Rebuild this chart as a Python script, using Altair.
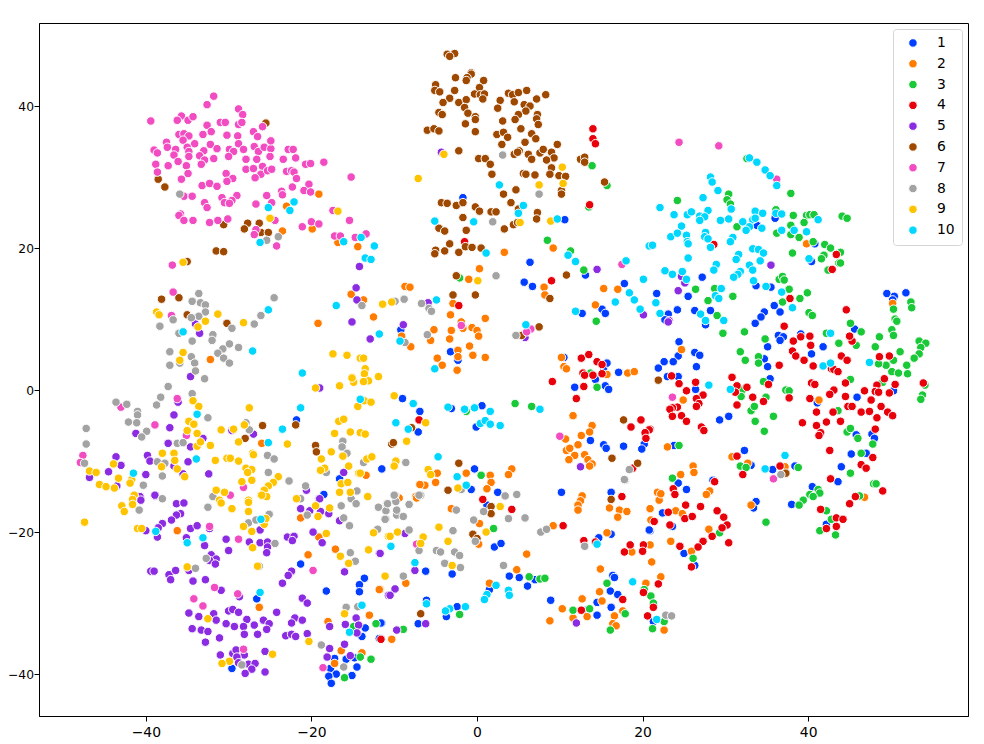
import altair as alt
import pandas as pd

c1 = [(-1.7,27.1),(10.6,24.0),(6.4,18.0),(36.0,24.2),(33.8,23.2),(40.8,20.6),(40.4,18.1),(27.2,15.9),(33.7,14.7),(35.5,14.5),(25.5,13.2),(49.5,13.6),(50.4,13.2),(51.8,13.7),(50.2,12.7),(35.9,11.9),(36.6,11.0),(34.7,11.0),(34.3,10.3),(33.6,9.4),(28.2,11.2),(26.3,11.2),(24.2,11.3),(23.1,10.7),(22.7,9.9),(27.6,9.2),(45.6,8.6),(36.4,7.7),(37.0,7.5),(36.6,7.0),(39.1,7.9),(35.1,6.1),(41.8,6.1),(40.4,5.1),(24.4,6.8),(26.3,5.3),(26.9,4.9),(24.3,4.8),(23.7,4.0),(22.6,4.0),(21.9,3.1),(26.5,3.3),(23.0,1.9),(24.3,1.9),(26.4,0.1),(34.7,4.4),(35.1,3.3),(35.4,1.6),(45.9,-1.0),(41.1,-1.8),(29.3,-4.2),(30.4,-3.7),(50.3,-0.1),(45.8,-6.3),(47.7,-6.2),(48.0,-6.8),(32.3,-8.5),(33.1,-10.6),(35.7,-11.2),(38.4,-10.7),(45.2,-9.0),(47.0,-8.9),(44.0,-10.8),(43.6,-12.9),(40.5,-13.6),(23.8,-7.8),(24.3,-13.1),(28.5,-12.7),(25.3,-14.0),(33.7,-15.7),(33.4,-16.6),(38.0,-16.1),(22.4,-17.3),(23.6,-19.2),(42.2,-18.9),(20.9,-19.8),(25.0,-23.0),(5.7,15.2),(6.7,14.6),(13.1,16.2),(17.8,15.0),(21.7,13.6),(15.1,11.4),(15.5,10.8),(12.7,10.8),(-9.2,8.5),(-3.2,5.4),(-2.3,4.2),(10.5,4.6),(15.7,3.8),(15.3,2.8),(17.1,2.5),(14.3,1.5),(11.8,0.4),(15.5,0.6),(15.9,0.1),(-9.0,-1.2),(-6.9,-3.0),(-7.1,-5.9),(0.6,-2.2),(-3.1,-2.6),(-0.1,-5.2),(13.7,-7.1),(15.3,-7.7),(15.6,-8.2),(17.7,-7.9),(20.2,-7.6),(19.9,-8.3),(-11.5,-11.1),(-0.3,-11.1),(-0.7,-14.0),(2.5,-14.4),(10.2,-14.4),(16.2,-14.4),(1.2,-16.2),(20.8,-19.7),(2.1,-22.1),(2.9,-21.6),(14.7,-20.8),(16.2,-20.3),(-3.0,-25.9),(-6.2,-25.5),(3.9,-26.2),(5.1,-26.4),(7.0,-26.7),(6.1,-27.6),(1.5,-28.1),(26.3,-24.7),(16.4,-26.1),(16.6,-26.4),(16.1,-28.3),(17.0,-28.8),(14.5,-29.9),(16.2,-30.6),(14.5,-31.7),(13.2,-31.0),(8.9,-29.6),(-6.1,-29.6),(-2.4,-30.5),(-3.7,-31.9),(-7.1,-32.9),(-11.5,-32.8),(-11.7,-35.0),(21.3,-32.6),(-18.5,-14.7),(-21.3,-24.5),(-29.6,-39.2),(-26.6,-29.4),(-13.6,-26.5),(-14.2,-27.4),(-14.2,-28.4),(-18.2,-28.3),(-11.6,-32.8),(-13.5,-33.5),(-13.9,-34.7),(-11.8,-35.0),(-17.2,-37.8),(-15.8,-37.9),(-14.8,-37.7),(-14.5,-39.0),(-17.7,-39.2),(-17.0,-40.0),(-17.9,-40.3),(-15.1,-40.2),(-17.6,-41.3),(-21.8,-4.2),(-16.6,-12.5)]

c2 = [(-19.1,27.6),(-23.0,25.9),(-23.5,22.4),(-19.9,22.7),(-16.8,20.8),(-14.4,20.2),(-15.2,13.5),(9.2,20.0),(3.3,19.4),(0.3,17.1),(39.8,20.6),(50.2,12.2),(24.7,5.7),(-19.2,9.4),(-32.2,4.3),(-26.0,-7.5),(-8.7,14.6),(-8.1,14.5),(-13.7,12.7),(-12.5,10.3),(-1.0,15.6),(-2.9,12.2),(-3.2,10.6),(-1.9,9.6),(1.0,10.1),(-1.7,8.7),(-0.6,8.8),(0.0,8.4),(0.2,7.6),(-3.1,8.4),(-3.3,7.2),(-5.2,8.5),(-5.6,7.0),(-9.1,7.6),(-8.0,6.1),(-0.9,6.2),(-2.3,5.6),(-2.3,4.7),(-0.5,4.9),(1.0,4.6),(-4.8,4.5),(-4.2,3.5),(-2.4,2.8),(8.1,14.5),(8.2,13.4),(15.3,14.3),(17.0,14.2),(14.3,12.0),(10.2,4.6),(10.5,3.3),(10.8,3.0),(15.7,2.2),(18.2,2.4),(19.0,2.6),(11.6,-3.6),(13.9,-5.0),(13.6,-5.9),(12.6,-6.4),(10.7,-6.9),(12.2,-7.7),(10.8,-8.5),(11.2,-8.2),(11.8,-9.2),(11.1,-9.8),(13.0,-9.1),(13.4,-9.8),(13.9,-10.4),(13.6,-10.7),(4.2,-11.1),(3.8,-11.9),(-1.3,-11.7),(-4.8,-11.7),(-5.0,-13.0),(-6.3,-13.4),(-6.9,-13.3),(-7.4,-15.0),(-13.4,-12.0),(-9.4,-15.2),(1.6,-12.0),(1.7,-13.0),(1.2,-13.9),(12.7,-14.9),(21.8,-14.4),(22.0,-15.5),(24.9,-1.4),(41.3,-1.4),(23.0,-8.0),(30.8,-9.4),(32.7,-10.3),(37.2,-10.8),(46.8,-15.1),(26.1,-10.7),(24.6,-11.9),(26.2,-11.6),(22.2,-14.6),(28.1,-14.2),(27.7,-14.7),(33.1,-16.2),(20.9,-16.7),(24.0,-17.0),(24.8,-17.4),(20.9,-21.8),(28.0,-19.6),(23.4,-21.3),(25.9,-22.7),(21.0,-18.3),(-7.3,-15.2),(-3.1,-16.7),(0.3,-18.8),(0.2,-21.7),(6.0,-23.1),(4.8,-25.3),(1.5,-27.2),(-8.6,-27.2),(-11.7,-28.1),(-10.3,-35.1),(12.5,-15.6),(12.2,-16.2),(12.2,-16.9),(9.2,-19.1),(15.7,-20.1),(16.0,-16.6),(17.2,-16.9),(18.1,-17.1),(17.0,-17.9),(18.7,-22.8),(21.1,-24.2),(14.9,-25.2),(22.2,-26.3),(20.4,-27.2),(14.8,-28.4),(15.1,-29.7),(12.7,-29.4),(10.3,-30.8),(11.6,-32.1),(13.3,-31.9),(8.8,-32.5),(17.6,-31.1),(16.6,-31.8),(16.4,-32.9),(16.8,-33.2),(22.6,-33.8),(-36.2,-19.8),(-21.3,-18.0),(-19.1,-20.7),(-20.4,-23.2),(-17.1,-22.4),(-11.8,-28.1),(-26.3,-30.6),(-18.0,-32.6),(-13.0,-31.7),(-16.4,-36.7),(-13.9,-37.0),(-17.2,-38.5)]

c3 = [(32.6,32.6),(37.9,27.7),(30.4,27.6),(30.2,26.8),(30.6,26.2),(24.2,26.7),(36.1,25.4),(38.2,24.6),(39.8,24.6),(40.2,24.7),(40.7,24.7),(44.1,24.5),(44.7,24.2),(39.5,23.6),(37.9,23.2),(31.4,23.0),(36.2,22.1),(37.9,21.9),(38.9,21.5),(40.6,20.9),(42.0,20.5),(42.7,20.0),(43.9,19.4),(38.1,19.3),(41.9,19.0),(41.6,18.5),(43.7,17.9),(43.9,17.9),(42.4,16.9),(36.5,15.6),(36.9,16.0),(37.1,15.5),(26.4,14.2),(28.7,14.3),(37.7,14.2),(39.9,13.7),(39.0,12.9),(36.9,12.4),(30.9,13.2),(27.9,12.6),(29.0,10.5),(40.1,10.9),(40.5,10.5),(52.4,12.4),(52.5,11.6),(50.3,11.4),(50.5,10.0),(50.7,9.7),(45.1,9.4),(46.4,8.2),(50.1,8.5),(50.3,7.7),(48.6,7.5),(48.1,6.1),(53.4,6.9),(54.2,6.6),(53.6,6.0),(53.4,5.1),(52.8,4.5),(51.1,5.4),(42.2,8.0),(43.7,6.6),(45.8,6.3),(34.8,7.2),(32.3,8.2),(29.7,8.0),(31.8,5.4),(32.4,4.2),(34.0,4.7),(13.9,31.6),(15.7,28.8),(8.5,21.1),(11.3,19.6),(12.9,16.9),(13.5,25.8),(34.0,3.8),(34.6,1.2),(32.1,0.1),(31.9,-0.9),(34.9,-1.0),(33.1,-2.9),(33.5,-2.3),(33.6,-4.4),(35.8,-3.7),(34.7,-5.8),(37.3,0.0),(37.7,-0.1),(45.1,1.5),(43.6,-2.9),(44.7,-5.9),(45.1,-5.4),(46.0,-6.8),(47.8,-7.6),(46.4,-8.9),(45.1,-11.7),(38.8,-10.9),(31.8,-10.7),(32.5,-10.9),(24.4,-7.8),(23.6,-12.4),(47.9,-13.2),(48.2,-13.2),(46.2,-14.9),(41.2,-14.0),(41.4,-14.5),(40.2,-14.7),(40.6,-15.0),(39.4,-15.5),(38.9,-16.2),(42.2,-17.0),(42.8,-18.2),(41.4,-19.8),(43.3,-20.4),(34.9,-18.6),(29.3,-20.1),(26.1,-23.7),(50.3,4.2),(49.4,3.5),(48.5,3.7),(50.1,2.6),(50.9,2.4),(52.0,2.3),(51.9,3.5),(49.0,1.1),(54.1,0.7),(53.8,-0.7),(53.6,-1.3),(-2.1,15.8),(14.4,9.7),(13.7,2.4),(14.5,0.4),(-1.3,-3.0),(4.6,-1.9),(6.6,-2.3),(0.5,-12.0),(2.0,-19.5),(-2.1,-31.6),(-8.9,-33.7),(6.3,-26.3),(7.6,-26.6),(8.2,-26.5),(15.7,-27.2),(20.2,-28.1),(21.0,-29.0),(21.3,-30.0),(11.6,-31.0),(13.6,-30.8),(17.9,-31.5),(22.6,-32.6),(21.2,-33.6),(16.1,-33.8),(-12.2,-32.9),(-14.9,-33.3),(-14.1,-37.6),(-12.8,-37.9),(-16.0,-40.5)]

c4 = [(14.0,36.8),(14.0,35.4),(14.3,34.7),(13.6,26.1),(-1.5,20.9),(28.6,20.5),(43.4,19.1),(42.9,17.0),(37.8,12.9),(44.6,11.3),(37.1,9.0),(45.3,6.9),(45.0,7.6),(38.2,6.9),(39.1,7.5),(40.2,7.6),(40.3,6.3),(38.1,5.5),(38.5,4.8),(39.5,4.2),(44.0,4.8),(44.7,4.2),(48.6,4.7),(49.8,4.8),(40.6,3.4),(42.8,3.0),(43.1,2.9),(43.6,2.6),(36.5,3.5),(49.2,1.6),(48.3,0.7),(50.5,0.8),(48.1,-0.2),(48.5,-0.3),(49.8,-0.4),(53.9,1.0),(44.5,1.0),(30.8,1.8),(31.4,0.6),(32.6,0.4),(31.2,-0.3),(35.2,0.8),(33.3,-1.0),(34.6,-1.6),(31.4,-2.1),(37.7,-1.1),(40.4,1.0),(40.8,0.8),(43.1,0.0),(42.6,-0.6),(40.2,-1.2),(44.5,-0.9),(46.8,-0.1),(47.6,-1.4),(44.8,-2.3),(45.3,-2.3),(46.4,-3.1),(47.4,-3.0),(48.8,-2.3),(49.6,-3.1),(50.2,-3.6),(48.3,-3.9),(41.0,-3.1),(43.0,-3.1),(42.2,-4.5),(43.9,-4.4),(39.3,-4.6),(41.0,-5.0),(41.5,-6.0),(41.3,-6.4),(48.1,-5.5),(23.5,2.0),(24.4,0.9),(26.4,1.1),(25.3,-0.1),(27.3,-0.7),(26.5,-1.2),(26.8,-1.9),(26.5,-2.3),(24.2,-2.4),(23.6,-2.5),(23.3,-2.7),(23.6,-3.7),(24.7,-3.6),(25.3,-4.4),(27.1,-5.2),(27.4,-5.7),(20.9,-5.5),(42.6,-8.5),(31.4,-9.3),(32.1,-11.9),(36.6,-10.7),(47.8,-9.5),(46.4,-10.5),(47.0,-11.0),(42.7,-12.5),(49.0,-14.2),(45.7,-15.0),(45.0,-16.0),(28.7,-12.9),(23.7,-13.9),(23.9,-14.7),(25.2,-16.2),(27.0,-16.4),(23.1,-17.2),(25.1,-18.1),(26.0,-17.8),(29.0,-17.0),(29.8,-17.9),(21.4,-18.5),(23.3,-19.0),(30.2,-19.0),(29.6,-19.4),(28.4,-20.6),(27.3,-21.3),(26.7,-22.1),(24.5,-22.0),(30.4,-21.5),(41.5,-16.8),(43.4,-18.0),(44.2,-18.2),(42.2,-19.5),(43.4,-19.2),(9.0,15.4),(-2.2,11.9),(9.1,1.2),(12.6,4.5),(13.5,5.0),(14.5,4.0),(15.1,3.6),(12.8,2.4),(13.0,2.1),(14.0,2.1),(15.1,2.3),(12.9,0.5),(12.0,-1.2),(-7.0,-4.2),(19.8,-4.2),(18.6,-5.2),(20.8,-5.6),(20.3,-6.0),(20.4,-6.8),(18.8,-11.0),(0.7,-15.4),(17.5,-15.0),(4.2,-16.8),(10.4,-19.1),(12.9,-21.2),(14.3,-21.4),(18.5,-21.8),(20.1,-21.8),(17.8,-22.8),(20.0,-22.7),(25.9,-24.9),(17.6,-29.5),(12.6,-31.0),(20.6,-31.8),(21.3,-30.6),(20.1,-28.5),(21.9,-27.3),(-11.6,-35.1)]

c5 = [(-38.9,-14.9),(-40.7,-15.0),(-40.6,-15.5),(-36.3,-16.0),(-35.4,-15.9),(-35.8,-17.4),(-36.3,-17.6),(-36.9,-18.3),(-38.0,-18.8),(-38.5,-19.4),(-40.0,-19.8),(-38.6,-20.7),(-34.6,-19.5),(-33.8,-19.1),(-32.3,-19.5),(-35.1,-20.8),(-32.9,-21.9),(-30.3,-21.0),(-30.0,-22.6),(-27.5,-21.4),(-26.2,-19.7),(-26.2,-21.5),(-25.3,-21.4),(-25.3,-22.1),(-25.4,-22.9),(-22.9,-20.7),(-22.1,-20.6),(-22.3,-21.2),(-19.8,-20.0),(-18.7,-21.5),(-32.1,-23.2),(-31.5,-23.8),(-32.3,-24.0),(-31.6,-24.5),(-39.4,-25.5),(-39.0,-25.5),(-37.2,-26.0),(-37.0,-26.7),(-36.4,-25.4),(-34.8,-25.4),(-34.3,-26.9),(-32.8,-26.7),(-30.9,-28.2),(-28.7,-29.1),(-22.4,-25.5),(-22.8,-26.1),(-23.5,-27.2),(-16.0,-25.6),(-21.1,-29.3),(-20.5,-30.0),(-24.2,-31.3),(-34.8,-31.4),(-33.6,-31.9),(-31.8,-31.5),(-31.5,-32.4),(-34.4,-33.6),(-33.3,-33.8),(-32.5,-34.0),(-31.1,-34.9),(-32.8,-35.5),(-30.0,-31.1),(-29.5,-30.9),(-28.8,-31.3),(-27.8,-32.3),(-30.3,-32.9),(-29.3,-33.3),(-28.2,-33.3),(-26.9,-33.1),(-28.1,-34.4),(-26.5,-34.4),(-25.8,-32.4),(-25.1,-32.9),(-25.4,-33.7),(-22.0,-32.1),(-22.4,-32.8),(-21.1,-32.4),(-23.1,-34.6),(-22.4,-34.4),(-21.9,-34.7),(-20.5,-34.3),(-17.8,-36.4),(-16.0,-35.8),(-18.1,-37.6),(-17.8,-33.3),(-15.9,-33.0),(-14.6,-32.1),(-14.3,-33.1),(-14.5,-34.2),(-15.3,-37.4),(-31.0,-37.3),(-29.5,-37.1),(-29.1,-36.6),(-28.1,-37.3),(-29.0,-37.6),(-28.8,-38.4),(-27.6,-38.6),(-26.8,-38.5),(-27.2,-39.3),(-28.0,-39.9),(-25.6,-39.7),(-25.6,-36.8),(-20.6,-14.1),(-19.1,-15.3),(-21.3,-16.7),(-20.2,-17.0),(-18.9,-17.1),(-17.9,-17.4),(-16.6,-18.4),(-11.8,-23.0),(-10.7,-28.9),(-34.0,9.3),(-33.5,8.0),(-15.1,9.6),(-14.5,12.7),(-34.6,1.9),(-19.0,0.3),(-36.1,-1.7),(-36.6,-3.5),(-37.1,-5.3),(-41.2,-6.1),(-37.3,-7.5),(-34.6,-8.0),(-33.1,-6.8),(-29.6,-5.7),(-27.0,-6.2),(-43.6,-9.4),(-39.8,-9.2),(-39.5,-10.0),(-43.0,-10.6),(-44.5,-11.5),(-46.8,-12.3),(-40.0,-11.9),(-34.9,-10.1),(-36.6,-10.7),(-35.5,-11.8),(-32.4,-11.8),(-43.5,-13.5),(-38.9,-14.8),(-16.1,-11.6),(-19.0,-15.3),(-14.2,17.4),(-14.6,14.4),(-4.3,33.5),(14.5,17.0),(35.5,17.6),(24.7,16.0),(25.1,15.1),(24.3,14.0),(23.2,9.8),(-5.9,12.3),(-12.9,7.2),(-8.9,9.2),(5.8,7.4),(20.1,10.6),(23.1,9.6),(12.5,-10.8),(-8.7,-20.2),(-11.7,-23.0),(-7.5,-25.4),(-9.9,-28.0),(-10.5,-28.9),(-6.2,-32.9),(-9.7,-33.8),(12.0,-32.8)]

c6 = [(-3.6,47.3),(-2.7,47.4),(-3.3,47.0),(-0.7,44.7),(-0.7,44.5),(-1.2,44.0),(-1.3,43.6),(-2.6,44.0),(0.8,43.6),(-5.0,43.0),(-5.1,42.2),(-4.5,42.0),(-2.7,42.2),(0.3,42.6),(-0.3,41.7),(0.4,41.6),(0.9,41.7),(0.7,41.0),(-3.3,41.1),(-4.1,40.5),(-2.2,40.5),(-1.3,40.9),(-1.5,39.8),(-1.1,39.0),(-4.6,39.1),(-4.2,38.8),(-0.2,38.5),(-0.2,38.1),(-1.4,37.5),(-0.2,36.4),(-6.0,36.6),(-5.2,36.8),(-4.6,36.5),(-2.2,33.7),(3.8,41.8),(4.3,41.6),(5.0,41.9),(6.0,42.2),(8.3,41.6),(7.2,41.0),(2.8,40.8),(4.5,40.6),(5.7,40.2),(6.4,40.0),(2.5,39.7),(5.9,39.3),(5.0,38.8),(7.3,38.8),(4.6,38.1),(7.2,38.2),(7.4,37.4),(3.1,37.9),(5.3,36.8),(6.6,36.1),(7.1,35.4),(2.4,36.0),(3.2,36.3),(3.7,35.6),(3.0,34.6),(5.8,34.9),(9.7,34.6),(5.1,33.7),(4.5,33.2),(4.9,33.5),(6.2,33.2),(6.6,32.5),(7.6,33.4),(8.0,33.9),(9.0,33.5),(9.3,32.7),(8.4,32.4),(9.0,31.3),(8.8,30.4),(9.9,30.2),(10.7,30.1),(7.0,30.3),(5.6,30.5),(5.9,30.4),(0.2,32.6),(1.0,32.6),(1.6,31.8),(1.8,30.4),(4.7,28.2),(3.2,27.6),(4.1,26.4),(10.2,28.1),(10.2,27.6),(12.5,32.5),(13.0,32.8),(13.0,32.1),(15.4,29.3),(-4.3,26.4),(-3.6,26.3),(-2.5,26.0),(-1.7,26.4),(-0.2,25.8),(0.3,25.2),(1.7,25.1),(2.3,25.1),(5.0,25.5),(7.3,25.0),(7.2,24.1),(-1.7,24.3),(-4.6,22.8),(-3.9,22.4),(-1.3,22.5),(3.3,22.7),(4.4,23.3),(4.9,23.6),(-3.3,20.6),(-1.4,20.2),(-0.6,20.1),(0.5,20.0),(-2.2,19.4),(-3.9,19.6),(-5.0,19.7),(-5.1,19.2),(-25.5,37.6),(-38.5,29.7),(-37.7,28.6),(-30.6,23.3),(-27.7,23.5),(-28.1,22.7),(-26.3,23.5),(-26.1,22.2),(-25.2,22.2),(-31.5,19.6),(-30.6,19.5),(-35.0,18.1),(-38.1,12.8),(-36.0,13.0),(-35.0,10.6),(-30.2,9.4),(-25.9,-5.0),(-28.0,-6.8),(-21.9,-4.9),(-19.5,-7.8),(-19.4,-8.7),(-2.5,16.1),(-2.9,13.4),(-0.2,13.4),(10.8,16.2),(8.8,12.9),(7.5,8.9),(5.4,7.7),(21.9,1.4),(-7.9,-5.3),(-10.3,-7.6),(-10.1,-7.4),(17.7,-4.2),(16.3,-9.6),(19.4,-10.3),(-2.2,-10.3),(-3.5,-14.1),(37.3,-11.7),(1.7,-16.4),(1.7,-17.4),(16.2,-15.4),(-0.5,-20.3),(0.0,-20.9),(-6.8,-31.5)]

c7 = [(-39.4,37.9),(-31.8,41.4),(-32.6,40.2),(-35.7,38.6),(-36.2,38.0),(-34.9,38.0),(-34.3,38.5),(-32.6,37.3),(-31.0,37.7),(-30.4,37.7),(-28.8,39.6),(-28.3,38.8),(-28.8,37.4),(-28.4,37.7),(-25.9,37.1),(-27.0,36.4),(-26.5,35.7),(-32.1,36.4),(-33.1,36.0),(-30.2,35.9),(-28.9,35.8),(-36.0,36.0),(-35.4,36.1),(-34.8,35.8),(-35.5,35.2),(-34.1,34.7),(-37.5,34.9),(-37.4,34.2),(-39.0,33.8),(-38.6,33.4),(-36.4,33.9),(-36.6,33.1),(-35.0,34.2),(-34.8,33.6),(-34.8,32.9),(-36.1,32.2),(-38.8,31.8),(-37.3,31.6),(-35.1,31.6),(-38.6,30.7),(-34.9,30.5),(-35.7,29.7),(-32.2,34.6),(-31.4,34.0),(-33.0,33.7),(-33.5,33.0),(-32.9,32.4),(-33.3,31.8),(-31.8,32.6),(-29.9,33.9),(-29.4,33.6),(-30.0,32.9),(-28.8,34.7),(-28.2,33.9),(-27.9,32.5),(-26.9,34.3),(-26.4,33.6),(-25.7,34.2),(-24.9,34.0),(-24.9,35.1),(-26.6,32.5),(-25.0,32.9),(-27.9,31.1),(-27.0,31.2),(-25.9,31.5),(-26.1,30.4),(-25.3,30.9),(-24.8,31.1),(-26.8,29.9),(-30.3,30.5),(-29.5,29.8),(-30.2,29.4),(-23.4,32.5),(-22.8,33.9),(-22.2,33.9),(-21.9,32.7),(-20.7,31.8),(-20.1,31.9),(-18.5,32.1),(-23.0,30.8),(-22.4,30.9),(-22.1,30.7),(-21.8,29.8),(-15.2,30.0),(-20.3,29.0),(-22.3,28.6),(-20.9,28.1),(-20.1,27.9),(-23.6,28.0),(-23.5,27.5),(-25.4,27.4),(-24.8,26.4),(-26.7,26.2),(-33.2,28.8),(-32.3,29.1),(-31.4,28.7),(-35.4,27.3),(-34.4,27.3),(-30.8,27.1),(-29.0,27.4),(-29.6,26.7),(-30.5,26.4),(-29.9,26.3),(-32.9,26.4),(-32.6,25.7),(-35.8,24.8),(-36.0,24.6),(-35.4,23.9),(-34.3,23.9),(-32.3,23.6),(-31.3,23.9),(-30.1,24.1),(-24.4,23.9),(-26.7,22.6),(-26.9,21.9),(-24.2,20.3),(-21.1,23.0),(-20.0,23.7),(-19.1,23.4),(-17.4,25.3),(-15.4,23.9),(-17.2,21.7),(-16.5,21.7),(-14.7,21.5),(-36.8,17.6),(-36.7,13.8),(24.4,34.9),(29.2,34.4),(17.5,17.7),(-13.4,22.0),(36.2,29.7),(-36.9,10.5),(-36.2,-1.2),(-43.0,-2.4),(-38.9,-4.9),(-35.1,-6.4),(-47.6,-9.2),(-47.9,-10.2),(-28.2,-13.7),(-29.8,-14.8),(-28.8,-21.0),(-32.3,-19.2),(-19.8,-25.4),(-31.7,-27.8),(-28.9,-28.7),(-34.2,-29.4),(-33.1,-30.4),(-28.2,-36.5),(-18.6,-39.1),(-1.9,9.1),(6.5,8.6),(6.0,8.2),(10.0,-6.5),(23.6,-1.0),(35.8,-12.5),(-7.3,-21.7)]

c8 = [(3.1,33.1),(7.5,27.6),(1.9,23.7),(-35.9,27.6),(-25.4,21.1),(-24.0,21.6),(-33.6,13.6),(-34.4,12.5),(-33.4,12.3),(-32.8,12.0),(-24.5,13.0),(2.3,16.1),(-32.8,11.0),(-33.6,10.4),(-34.5,10.2),(-36.7,9.9),(-38.3,9.0),(-36.0,8.0),(-34.4,6.9),(-31.9,7.8),(-32.0,7.0),(-29.6,8.7),(-26.1,10.5),(-26.9,9.3),(-29.9,6.5),(-30.7,5.8),(-31.3,5.2),(-28.8,6.0),(-30.6,4.5),(-29.9,3.8),(-37.1,5.4),(-34.5,4.7),(-35.9,3.8),(-37.1,3.5),(-34.1,3.8),(-34.0,2.7),(-32.9,1.6),(-37.3,0.5),(-34.4,-0.5),(-38.2,-1.0),(-38.7,-2.1),(-43.6,-1.7),(-42.3,-2.0),(-41.0,-3.0),(-41.0,-3.5),(-42.1,-4.5),(-41.1,-4.6),(-39.9,-5.8),(-40.5,-6.6),(-32.5,-3.9),(-47.2,-5.4),(-47.2,-7.6),(-47.4,-10.3),(-36.2,-7.5),(-35.5,-7.4),(-38.6,-10.1),(-37.7,-10.3),(-38.0,-12.1),(-40.3,-13.4),(-38.0,-15.3),(-27.9,-4.6),(-27.5,-5.6),(-25.3,-9.2),(-24.5,-9.7),(-25.2,-11.6),(-22.7,-12.8),(-16.2,-7.2),(-16.3,-8.0),(-15.7,-8.9),(-18.2,-11.6),(-20.7,-13.5),(-21.3,-15.3),(-14.5,-14.2),(-15.2,-15.3),(-31.9,-15.0),(-40.8,-16.9),(-32.5,-16.5),(-27.6,-18.7),(-26.7,-18.3),(-25.1,-17.5),(-24.4,-21.6),(-20.5,-17.6),(-16.4,-16.3),(-14.6,-16.0),(-11.9,-16.5),(-10.9,-16.0),(-11.0,-17.0),(-11.0,-18.2),(-16.1,-18.0),(-15.4,-19.1),(-12.0,-19.6),(-15.3,-22.9),(-14.7,-24.1),(-32.7,-23.7),(-34.0,-25.1),(-26.3,-24.8),(-15.8,-30.6),(-14.4,-30.5),(-18.8,-35.9),(-28.4,-38.7),(-16.1,-39.0),(-9.9,-14.8),(-6.8,-14.8),(-8.2,-16.1),(-10.8,-16.0),(-9.7,-17.6),(-8.9,-17.8),(-11.1,-18.2),(-9.7,-16.9),(-9.8,-15.7),(-2.0,-14.0),(-2.5,-16.9),(3.4,-14.9),(4.8,-14.7),(0.8,-17.1),(-0.4,-18.3),(3.8,-18.1),(5.8,-18.0),(-8.2,-19.7),(-2.9,-19.8),(-0.2,-21.3),(-7.0,-22.6),(-4.9,-22.6),(-4.4,-22.8),(-2.7,-22.8),(-2.1,-23.3),(-3.9,-24.4),(-2.0,-25.0),(3.2,-24.7),(-8.9,-26.2),(7.7,-20.0),(8.4,-19.6),(17.9,-12.7),(13.0,-22.0),(22.8,-31.7),(23.5,-31.8),(-8.8,12.8),(-9.9,12.5),(-6.7,12.2),(-5.8,11.5),(-5.5,11.1),(-13.9,11.9),(-8.7,6.7),(-6.0,7.8),(4.7,7.7),(-13.7,-10.2),(-8.6,-10.2),(-1.9,-14.0),(-10.0,-14.8),(-7.0,-14.8),(18.4,-11.2),(17.8,-12.6),(36.7,-11.9)]

c9 = [(-4.0,33.2),(-7.1,29.8),(10.3,31.4),(7.5,28.9),(10.4,29.1),(5.2,23.6),(8.9,23.8),(-16.8,25.2),(-25.0,24.2),(-35.5,18.0),(-38.7,11.0),(-38.4,10.6),(-31.3,10.7),(-28.2,9.5),(-32.8,9.7),(-33.7,8.9),(-35.5,5.3),(-35.9,4.2),(-17.4,5.1),(-15.7,4.9),(-14.1,4.5),(-19.5,0.3),(-16.6,0.6),(-15.1,1.8),(-14.9,1.1),(-34.3,-1.5),(-33.6,-2.3),(-27.5,-2.5),(-14.4,-2.3),(-34.8,-4.4),(-34.2,-4.8),(-35.0,-5.7),(-33.8,-6.1),(-30.9,-5.6),(-29.4,-5.5),(-28.1,-4.9),(-28.8,-7.3),(-32.2,-7.8),(-33.8,-7.9),(-33.4,-7.3),(-22.9,-7.6),(-16.7,-4.4),(-16.1,-4.1),(-17.2,-6.1),(-15.3,-5.9),(-14.1,-6.0),(-17.6,-8.7),(-16.2,-9.3),(-18.8,-9.7),(-15.5,-10.7),(-18.4,-11.0),(-18.9,-11.3),(-14.3,-11.7),(-38.0,-8.9),(-36.6,-8.9),(-36.5,-9.9),(-38.1,-10.8),(-36.2,-11.1),(-35.3,-12.2),(-31.6,-9.9),(-30.2,-9.6),(-29.8,-9.6),(-28.8,-10.0),(-27.1,-8.9),(-27.0,-9.1),(-27.9,-11.0),(-27.2,-11.2),(-27.7,-11.6),(-27.2,-12.7),(-28.4,-12.9),(-24.0,-12.2),(-24.6,-13.0),(-25.2,-13.5),(-25.7,-14.1),(-26.1,-14.8),(-25.4,-15.0),(-31.5,-14.1),(-30.5,-14.4),(-31.1,-15.5),(-43.9,-10.4),(-46.8,-11.4),(-46.0,-11.6),(-43.3,-12.4),(-41.7,-12.6),(-41.9,-13.1),(-45.6,-13.3),(-44.8,-13.6),(-43.8,-13.8),(-41.4,-14.8),(-41.6,-15.4),(-16.4,-13.2),(-15.6,-13.0),(-16.6,-14.4),(-15.3,-14.4),(-27.6,-15.5),(-21.8,-15.3),(-47.4,-18.6),(-42.9,-16.3),(-42.6,-17.1),(-41.6,-16.1),(-41.0,-19.5),(-40.5,-19.5),(-30.9,-15.9),(-29.6,-16.7),(-27.6,-15.8),(-27.6,-17.1),(-28.2,-19.2),(-27.2,-19.9),(-25.7,-18.9),(-25.5,-18.1),(-27.1,-22.2),(-26.5,-24.8),(-35.0,-24.9),(-32.5,-32.2),(-29.9,-38.2),(-30.8,-38.5),(-24.7,-37.2),(-26.0,-14.8),(-19.5,-16.3),(-19.2,-17.8),(-17.8,-16.6),(-18.2,-20.2),(-16.5,-23.4),(-15.5,-24.4),(-13.1,-22.5),(-12.5,-20.1),(-10.7,-20.6),(-11.1,-26.2),(-13.2,-15.0),(-16.0,-31.5),(-20.3,-35.4),(0.1,15.4),(-11.4,12.1),(-10.3,12.4),(-13.7,4.5),(-13.5,3.0),(-13.6,2.3),(-11.9,1.9),(-13.1,1.3),(-13.7,1.2),(-15.1,1.7),(-10.0,-0.8),(-13.6,-1.5),(-12.8,-1.7),(-6.2,-4.6),(-8.5,-7.2),(-13.5,-6.2),(-13.3,-9.7),(-12.7,-9.4),(-9.8,-10.0),(-10.0,-10.7),(-14.1,-11.7),(-5.9,-11.2),(-5.6,-11.9),(-2.3,-13.8),(2.8,-16.4),(1.1,-20.0),(-4.6,-19.3),(-3.5,-21.3),(-6.5,-20.7),(-9.6,-20.0),(-10.5,-20.6),(-6.8,-21.6),(-3.0,-24.7)]

c10 = [(32.9,32.7),(33.8,32.1),(34.8,31.0),(35.4,30.2),(36.2,28.8),(28.2,30.0),(28.4,29.3),(29.1,28.1),(27.3,27.1),(30.7,25.5),(22.1,25.7),(23.8,24.7),(25.4,24.7),(25.9,25.1),(27.9,25.3),(26.9,24.5),(27.5,24.4),(26.9,23.9),(29.4,23.9),(30.4,24.1),(33.6,25.2),(34.5,24.9),(36.1,24.9),(36.8,24.8),(32.1,23.7),(33.3,24.0),(33.6,24.2),(32.9,23.0),(32.5,22.5),(34.4,22.8),(24.7,23.1),(23.4,21.6),(24.2,22.1),(25.3,21.8),(25.4,20.9),(25.5,20.6),(27.6,22.2),(27.5,21.6),(27.9,21.3),(28.2,20.1),(30.9,21.5),(30.6,20.9),(41.2,24.0),(38.3,22.5),(39.8,22.3),(36.8,22.5),(25.5,18.6),(33.3,19.9),(34.0,19.8),(34.6,19.3),(31.6,19.1),(31.3,18.4),(34.2,18.2),(40.1,18.5),(28.9,17.7),(28.6,16.9),(32.9,17.6),(33.3,16.9),(31.8,16.7),(31.5,16.3),(31.0,15.9),(22.7,16.8),(23.6,16.3),(24.8,16.7),(25.3,15.6),(33.4,15.4),(34.9,14.6),(29.5,14.3),(28.8,13.3),(29.2,12.9),(36.8,13.8),(38.1,11.6),(27.0,10.7),(27.6,9.8),(29.8,9.8),(22.1,10.8),(42.7,8.0),(2.7,28.9),(5.6,26.0),(5.0,24.9),(-5.1,23.8),(-0.4,23.7),(9.7,24.1),(1.1,19.3),(11.0,19.0),(11.9,18.1),(18.0,18.2),(20.8,20.3),(21.2,20.4),(-14.0,21.5),(-12.4,20.3),(-13.5,18.6),(-12.8,18.4),(-25.2,25.7),(-22.1,26.5),(-22.6,25.3),(-26.2,20.8),(-16.1,20.9),(-25.2,11.3),(-17.0,11.9),(-35.5,8.2),(-27.1,5.5),(-21.1,2.4),(-21.3,-2.5),(-33.8,-3.4),(-23.5,-5.5),(-25.2,-7.4),(-33.9,-9.7),(-41.5,-11.7),(-14.1,-1.3),(-26.1,-18.2),(-38.8,-19.9),(-35.0,-21.5),(-33.1,-20.8),(-26.2,-28.5),(-13.9,-30.3),(-15.4,-34.1),(-4.9,12.7),(-11.8,7.9),(5.9,9.2),(-9.3,6.9),(-5.1,3.0),(11.9,11.1),(16.7,12.4),(18.4,13.7),(19.0,12.7),(19.7,11.4),(20.1,15.6),(21.6,12.3),(-3.5,-2.4),(-1.5,-2.7),(-0.3,-2.5),(1.6,-3.0),(7.6,-2.7),(-7.7,-1.9),(-9.8,-4.6),(-8.3,-5.5),(0.4,-4.7),(1.0,-4.3),(1.6,-4.8),(2.8,-5.0),(-4.7,-9.4),(-2.4,-12.2),(-1.3,-13.4),(28.0,0.7),(30.6,0.1),(41.8,3.4),(42.7,3.8),(47.4,3.9),(37.2,-9.2),(34.8,-11.1),(-10.4,-22.0),(-7.5,-24.3),(2.3,-27.5),(3.8,-28.2),(3.9,-28.9),(1.2,-28.8),(0.9,-29.5),(-1.4,-30.5),(-3.3,-30.8),(-3.8,-31.1),(18.8,-27.0),(21.7,-32.3),(-6.1,-30.1),(14.5,-21.7)]

labels = ["1", "2", "3", "4", "5", "6", "7", "8", "9", "10"]
palette = ["#023eff", "#ff7c00", "#1ac938", "#e8000b", "#8b2be2",
           "#9f4800", "#f14cc1", "#a3a3a3", "#ffc400", "#00d7ff"]
groups = [c1, c2, c3, c4, c5, c6, c7, c8, c9, c10]
x_ticks = [-40, -20, 0, 20, 40]
y_ticks = [-40, -20, 0, 20, 40]

rows = [{"x": px, "y": py, "label": lab}
        for lab, pts in zip(labels, groups) for px, py in pts]
df = pd.DataFrame(rows)

chart = (
    alt.Chart(df)
    .mark_point(filled=True, opacity=1, size=72, stroke="white", strokeWidth=1, fillOpacity=1)
    .encode(
        x=alt.X("x:Q", title=None,
                scale=alt.Scale(domain=[-52.9, 59.3], nice=False, zero=False),
                axis=alt.Axis(values=x_ticks, grid=False, tickSize=5, tickColor="black",
                              domainColor="black", labelColor="black", labelFontSize=13.9,
                              labelFont="DejaVu Sans", labelPadding=4, format="d")),
        y=alt.Y("y:Q", title=None,
                scale=alt.Scale(domain=[-45.9, 51.7], nice=False, zero=False),
                axis=alt.Axis(values=y_ticks, grid=False, tickSize=5, tickColor="black",
                              domainColor="black", labelColor="black", labelFontSize=12.3,
                              labelFont="DejaVu Sans", labelPadding=0.5, format="d")),
        color=alt.Color("label:N", title=None,
                        scale=alt.Scale(domain=labels, range=palette),
                        legend=alt.Legend(orient="none", legendX=854, legendY=6,
                                          symbolType="circle", symbolSize=72,
                                          symbolStrokeColor="white", symbolStrokeWidth=1,
                                          labelFontSize=13.9, labelFont="DejaVu Sans",
                                          labelColor="black", rowPadding=5.8, padding=7,
                                          fillColor="white", strokeColor="#d5d5d5",
                                          cornerRadius=3, symbolOffset=6, labelOffset=17,
                                          values=labels)),
    )
    .properties(width=929, height=693, autosize=alt.AutoSizeParams(type="none"),
                padding={"left": 31, "top": 15, "right": 8, "bottom": 24},
                background="white")
    .configure_view(stroke="black", strokeWidth=1)
)

chart.save("out.html", embed_options={"renderer": "svg", "actions": False})
